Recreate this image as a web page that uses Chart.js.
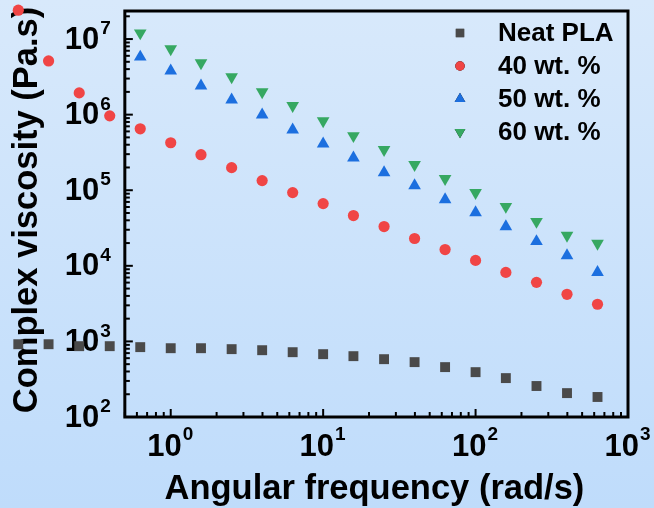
<!DOCTYPE html>
<html>
<head>
<meta charset="utf-8">
<script src="https://cdn.jsdelivr.net/npm/chart.js@4.4.0/dist/chart.umd.min.js"></script>
<style>
  html, body { margin: 0; padding: 0; }
  body { width: 654px; height: 508px; background: linear-gradient(#d8e9fb, #bfdcfb); }
  #wrap { width: 654px; height: 508px; }
</style>
</head>
<body>
<div id="wrap"><canvas id="c" width="654" height="508"></canvas></div>
<script>
// angular frequency (rad/s)
const freq = [0.1, 0.158, 0.251, 0.398, 0.631, 1, 1.58, 2.51, 3.98, 6.31, 10, 15.8, 25.1, 39.8, 63.1, 100, 158, 251, 398, 631];
// complex viscosity (Pa.s)
const neatPLA = [918, 918, 865, 865, 840, 813, 813, 790, 765, 720, 678, 638, 582, 532, 457, 392, 327, 257, 207, 184];
const wt40 = [2.41e7, 5.13e6, 1.94e6, 9.64e5, 6.5e5, 4.25e5, 2.95e5, 1.99e5, 1.34e5, 9.3e4, 6.65e4, 4.62e4, 3.31e4, 2.3e4, 1.64e4, 1.18e4, 8.18e3, 6.04e3, 4.2e3, 3.1e3];
const wt50 = [5.8e6, 3.79e6, 2.4e6, 1.57e6, 9.94e5, 6.3e5, 4.12e5, 2.69e5, 1.71e5, 1.15e5, 7.52e4, 5.06e4, 3.31e4, 2.1e4, 1.37e4, 8.18e3];
const wt60 = [1.2e7, 7.38e6, 4.82e6, 3.15e6, 2.0e6, 1.31e6, 8.28e5, 5.25e5, 3.43e5, 2.18e5, 1.42e5, 9.3e4, 6.08e4, 3.85e4, 2.52e4, 1.98e4];
const seriesNames = ['Neat PLA', '40 wt. %', '50 wt. %', '60 wt. %'];

// tick labels: base 10 with exponent
const xTicks = [1, 10, 100, 1000];
const xTickExp = ['0', '1', '2', '3'];
const yTicks = [1e2, 1e3, 1e4, 1e5, 1e6, 1e7];
const yTickExp = ['2', '3', '4', '5', '6', '7'];

const xTitle = 'Angular frequency (rad/s)';
const yTitle = 'Complex viscosity (Pa.s)';

// visible axis box starts at 0.5 rad/s, but the scale runs further left
// because the first points are plotted outside the box (chart.js only draws points inside chartArea)
const X_AXIS_MIN = 0.5;

const FONT = '"Liberation Sans", Arial, sans-serif';

function pts(xs, ys) {
  const off = xs.length - ys.length;
  return ys.map((v, i) => ({ x: xs[i + off], y: v }));
}

// axes box, ticks, tick labels and titles go under the markers (as in the original)
const frame = {
  id: 'frame',
  beforeDatasetsDraw(chart) {
    const { ctx, chartArea: a, scales } = chart;
    const left = scales.x.getPixelForValue(X_AXIS_MIN);
    ctx.save();
    ctx.strokeStyle = '#000';
    ctx.lineWidth = 3;
    ctx.strokeRect(left, a.top, a.right - left, a.bottom - a.top);
    ctx.lineWidth = 2;
    // minor + major ticks, inward
    for (let e = -1; e <= 3; e++) {
      for (let m = 1; m <= 9; m++) {
        const v = m * Math.pow(10, e);
        if (v < X_AXIS_MIN || v > scales.x.max) continue;
        const px = scales.x.getPixelForValue(v);
        const len = m === 1 ? 8 : 5;
        ctx.beginPath();
        ctx.moveTo(px, a.bottom);
        ctx.lineTo(px, a.bottom - len);
        ctx.stroke();
      }
    }
    for (let e = 2; e <= 7; e++) {
      for (let m = 1; m <= 9; m++) {
        const v = m * Math.pow(10, e);
        if (v < scales.y.min || v > scales.y.max) continue;
        const py = scales.y.getPixelForValue(v);
        const len = m === 1 ? 8 : 5;
        ctx.beginPath();
        ctx.moveTo(left, py);
        ctx.lineTo(left + len, py);
        ctx.stroke();
      }
    }

    ctx.fillStyle = '#000';
    const big = 'bold 31px ' + FONT;
    const small = 'bold 19px ' + FONT;
    // x tick labels
    xTicks.forEach((v, i) => {
      ctx.font = big;
      const w1 = ctx.measureText('10').width;
      ctx.font = small;
      const w2 = ctx.measureText(xTickExp[i]).width;
      const px = scales.x.getPixelForValue(v);
      const x0 = px - (w1 + w2) / 2 - 1;
      ctx.textBaseline = 'middle';
      ctx.textAlign = 'left';
      ctx.font = big;
      ctx.fillText('10', x0, 447);
      ctx.font = small;
      ctx.fillText(xTickExp[i], x0 + w1 + 1, 435);
    });
    // y tick labels
    yTicks.forEach((v, i) => {
      const py = scales.y.getPixelForValue(v);
      ctx.font = small;
      const w2 = ctx.measureText(yTickExp[i]).width;
      ctx.textBaseline = 'middle';
      ctx.textAlign = 'right';
      ctx.fillText(yTickExp[i], left - 14, py - 10);
      ctx.font = big;
      ctx.fillText('10', left - 14 - w2 - 1, py + 1);
    });
    // axis titles
    ctx.font = 'bold 34.5px ' + FONT;
    ctx.textAlign = 'center';
    ctx.textBaseline = 'middle';
    ctx.fillText(xTitle, (left + a.right) / 2 - 2, 489);
    ctx.translate(27, (a.top + a.bottom) / 2 - 4);
    ctx.rotate(-Math.PI / 2);
    ctx.fillText(yTitle, 0, 0);
    ctx.restore();
  },
  afterDraw(chart) {
    const { ctx } = chart;
    // legend, no box
    ctx.save();
    chart.data.datasets.forEach((ds, i) => {
      const y = 33 + i * 33;
      Chart.helpers.drawPoint(ctx, {
        pointStyle: ds.pointStyle,
        radius: ds.pointRadius * 0.85,
        rotation: ds.pointRotation || 0,
        borderWidth: 0
      }, 460, y);
      ctx.fillStyle = ds.backgroundColor;
      ctx.fill();
      ctx.fillStyle = '#000';
      ctx.font = 'bold 26px ' + FONT;
      ctx.textAlign = 'left';
      ctx.textBaseline = 'middle';
      ctx.fillText(ds.label, 498, y + 1);
    });
    ctx.restore();
  }
};

function series(label, data, color, style, r, rot) {
  return {
    label, data,
    backgroundColor: color, borderColor: color, borderWidth: 0,
    pointStyle: style, pointRadius: r, pointHoverRadius: r,
    pointRotation: rot || 0,
    showLine: false, clip: false
  };
}

new Chart(document.getElementById('c'), {
  type: 'scatter',
  data: {
    datasets: [
      series(seriesNames[0], pts(freq, neatPLA), '#4a4a4a', 'rect', 7),
      series(seriesNames[1], pts(freq, wt40), '#f04545', 'circle', 5.6),
      series(seriesNames[2], pts(freq, wt50), '#1c6fdf', 'triangle', 7.3),
      series(seriesNames[3], pts(freq, wt60), '#36a862', 'triangle', 7.3, 180)
    ]
  },
  options: {
    responsive: false,
    animation: false,
    layout: { padding: { left: 5, right: 26, top: 11, bottom: 91 } },
    plugins: { legend: { display: false }, tooltip: { enabled: false } },
    scales: {
      x: { type: 'logarithmic', min: 0.0847, max: 1000, display: false },
      y: { type: 'logarithmic', min: 100, max: 2.35e7, display: false }
    }
  },
  plugins: [frame]
});
</script>
</body>
</html>
